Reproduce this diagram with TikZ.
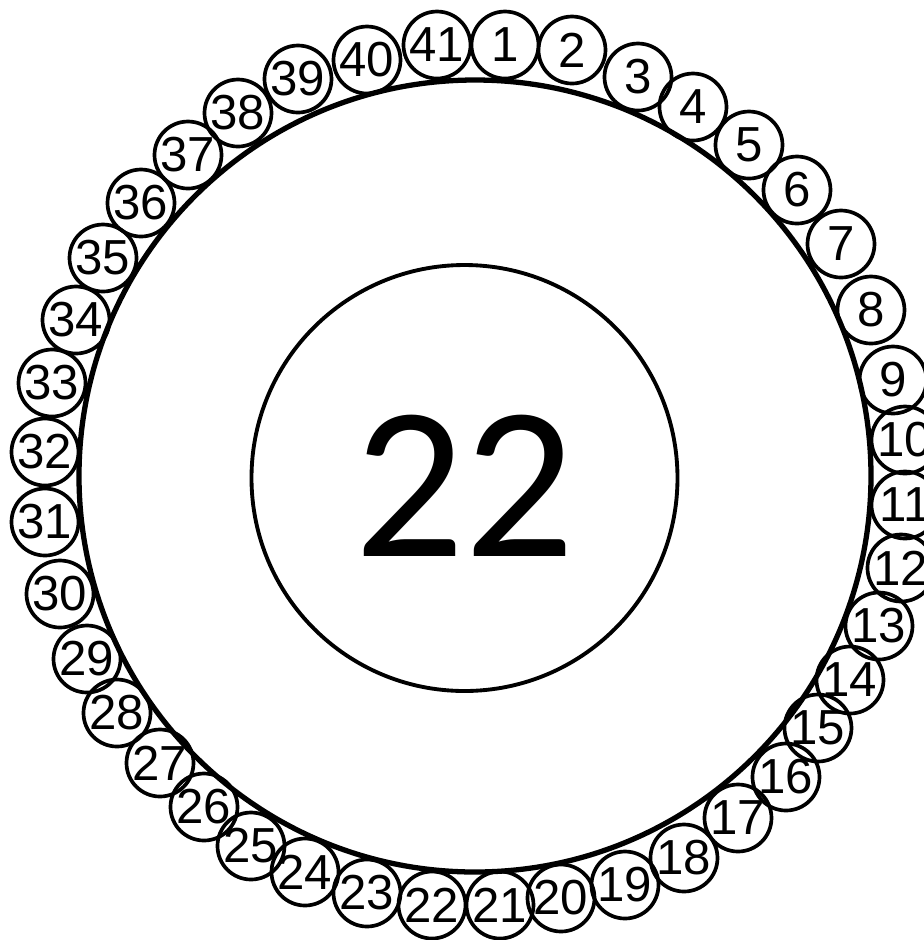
\documentclass[tikz,border=0pt]{standalone}
\usepackage{fontspec}
\setmainfont{Liberation Sans}
\newfontfamily\hubfont{Carlito}
\usepackage{tikz}

\tikzset{
  seat/.style={draw, circle, line width=1.05pt, minimum size=0.67cm, inner sep=0pt,
               font=\fontsize{14}{14}\selectfont},
}

\begin{document}
\begin{tikzpicture}[x=1cm, y=1cm]

% Page frame
\useasboundingbox (0,0) rectangle (9.24,-9.40);

% Table and hub
\node[draw, circle, line width=1.5pt, minimum size=7.92cm, inner sep=0pt] (table) at (4.75,-4.76) {};
\node[draw, circle, line width=1.1pt, minimum size=4.26cm, inner sep=0pt] (hub)   at (4.645,-4.78) {};
\node[font=\hubfont\fontsize{62}{62}\selectfont] (hubnum) at (4.645,-4.855) {22};

% Seats, right half
\node[seat] (s1)  at (5.05,-0.45) {1};
\node[seat] (s2)  at (5.72,-0.50) {2};
\node[seat] (s3)  at (6.38,-0.77) {3};
\node[seat] (s4)  at (6.93,-1.07) {4};
\node[seat] (s5)  at (7.49,-1.45) {5};
\node[seat] (s6)  at (7.97,-1.90) {6};
\node[seat] (s7)  at (8.41,-2.44) {7};
\node[seat] (s8)  at (8.71,-3.10) {8};
\node[seat] (s9)  at (8.93,-3.80) {9};
\node[seat] (s10) at (9.05,-4.40) {10};
\node[seat] (s11) at (9.05,-5.05) {11};
\node[seat] (s12) at (9.01,-5.68) {12};
\node[seat] (s13) at (8.79,-6.26) {13};
\node[seat] (s14) at (8.50,-6.80) {14};
\node[seat] (s15) at (8.18,-7.28) {15};
\node[seat] (s16) at (7.86,-7.77) {16};
\node[seat] (s17) at (7.38,-8.18) {17};
\node[seat] (s18) at (6.84,-8.58) {18};
\node[seat] (s19) at (6.25,-8.85) {19};
\node[seat] (s20) at (5.61,-8.98) {20};
\node[seat] (s21) at (5.00,-9.05) {21};

% Seats, left half
\node[seat] (s22) at (4.32,-9.05) {22};
\node[seat] (s23) at (3.67,-8.93) {23};
\node[seat] (s24) at (3.05,-8.72) {24};
\node[seat] (s25) at (2.51,-8.46) {25};
\node[seat] (s26) at (2.04,-8.07) {26};
\node[seat] (s27) at (1.60,-7.63) {27};
\node[seat] (s28) at (1.17,-7.13) {28};
\node[seat] (s29) at (0.87,-6.59) {29};
\node[seat] (s30) at (0.60,-5.94) {30};
\node[seat] (s31) at (0.45,-5.22) {31};
\node[seat] (s32) at (0.45,-4.52) {32};
\node[seat] (s33) at (0.52,-3.83) {33};
\node[seat] (s34) at (0.76,-3.20) {34};
\node[seat] (s35) at (1.03,-2.58) {35};
\node[seat] (s36) at (1.41,-2.03) {36};
\node[seat] (s37) at (1.88,-1.55) {37};
\node[seat] (s38) at (2.38,-1.13) {38};
\node[seat] (s39) at (2.98,-0.79) {39};
\node[seat] (s40) at (3.67,-0.60) {40};
\node[seat] (s41) at (4.37,-0.45) {41};

\end{tikzpicture}
\end{document}
